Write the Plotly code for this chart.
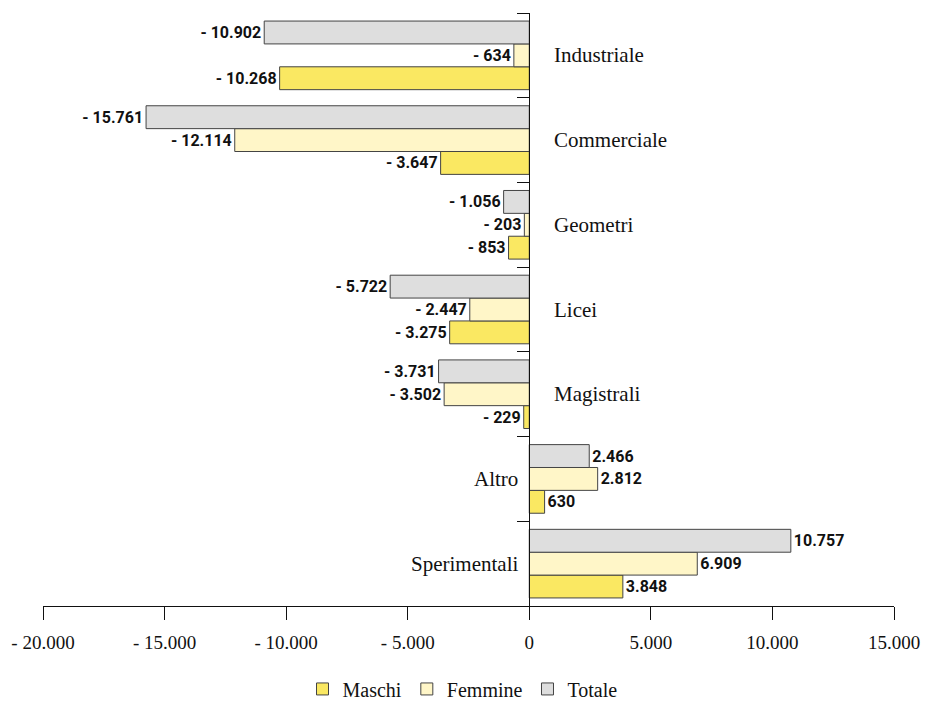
import plotly.graph_objects as go

categories = ["Industriale", "Commerciale", "Geometri", "Licei", "Magistrali", "Altro", "Sperimentali"]
maschi = [-10268, -3647, -853, -3275, -229, 630, 3848]
femmine = [-634, -12114, -203, -2447, -3502, 2812, 6909]
totale = [-10902, -15761, -1056, -5722, -3731, 2466, 10757]
series_names = ["Maschi", "Femmine", "Totale"]
tick_values = [-20000, -15000, -10000, -5000, 0, 5000, 10000, 15000]
tick_labels = ["- 20.000", "- 15.000", "- 10.000", "- 5.000", "0", "5.000", "10.000", "15.000"]

colors = ["#FAE862", "#FFF6C8", "#DEDEDE"]


def fmt(v):
    s = f"{abs(v):,}".replace(",", ".")
    return ("- " + s) if v < 0 else s


fig = go.Figure()
for name, vals, col in zip(series_names, [maschi, femmine, totale], colors):
    fig.add_trace(go.Bar(
        y=categories, x=vals, name=name, orientation="h",
        marker=dict(color=col, line=dict(color="#444444", width=1)),
        text=[fmt(v) for v in vals], textposition="outside",
        textfont=dict(family="Roboto", size=16, color="#111111", weight="bold"),
        cliponaxis=False,
    ))

# category labels beside the zero axis
for cat, tot in zip(categories, totale):
    neg = tot < 0
    fig.add_annotation(
        x=0, y=cat, xref="x", yref="y", text=cat, showarrow=False,
        xanchor="left" if neg else "right", xshift=23 if neg else -9,
        font=dict(family="Liberation Serif", size=21, color="#111111"),
    )

fig.update_layout(
    width=925, height=705,
    margin=dict(l=43, r=31, t=13, b=99, autoexpand=False),
    plot_bgcolor="white", paper_bgcolor="white",
    barmode="group", bargap=0.19, bargroupgap=0,
    showlegend=True,
    legend=dict(orientation="h", x=0.5, xanchor="center", xref="container",
                y=-0.107, yanchor="top", yref="paper",
                font=dict(family="Liberation Serif", size=20, color="#111111"),
                traceorder="normal", itemwidth=30),
    xaxis=dict(range=[-20000, 15000], tickvals=tick_values, ticktext=tick_labels,
               showline=True, linecolor="#111111", linewidth=1,
               ticks="outside", ticklen=13, tickcolor="#111111",
               showgrid=False, zeroline=False, automargin=False,
               ticklabelstandoff=6,
               tickfont=dict(family="Liberation Serif", size=19, color="#111111")),
    yaxis=dict(categoryorder="array", categoryarray=categories[::-1],
               anchor="free", position=20000 / 35000, automargin=False,
               showline=True, linecolor="#111111", linewidth=1,
               ticks="outside", ticklen=12, tickcolor="#111111", tickson="boundaries",
               showticklabels=False, showgrid=False, zeroline=False),
)

fig.write_html("out.html", config={"displayModeBar": False},
               post_script="document.body.style.margin='0';document.body.style.overflow='hidden';")
